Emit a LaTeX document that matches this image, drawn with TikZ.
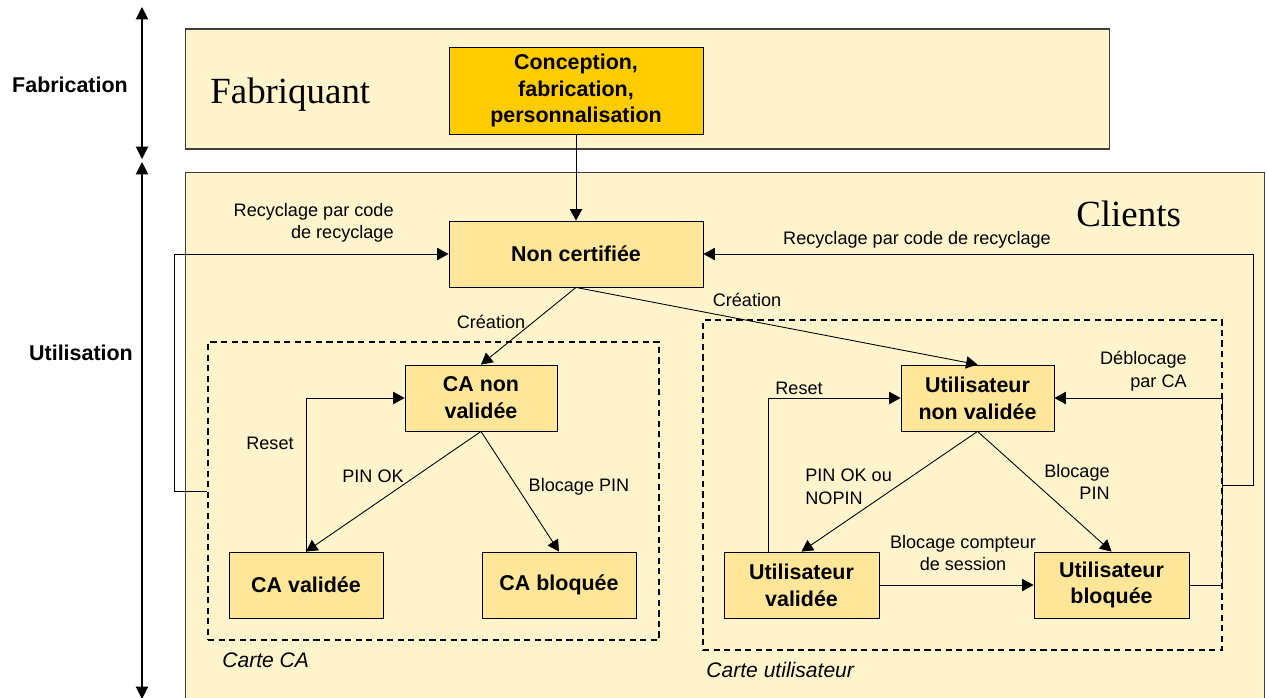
\documentclass[tikz,border=0pt]{standalone}
\usepackage{fontspec}
\setmainfont{Liberation Sans}
\newfontfamily\titlefont{Liberation Serif}
\usetikzlibrary{positioning,arrows.meta}

\definecolor{creme}{HTML}{FFF4CC}
\definecolor{etat}{HTML}{FFE699}
\definecolor{usine}{HTML}{FFCC00}
\definecolor{bord}{HTML}{404040}

\tikzset{
  zone/.style={draw=bord, fill=creme, line width=0.6pt, inner sep=0pt},
  etatbox/.style={draw=black, fill=etat, line width=0.5pt, align=center, inner sep=0pt,
    minimum height=1.32cm, font=\fontsize{12.2}{15.3}\selectfont\bfseries},
  carte/.style={draw=black, dash pattern=on 3.5pt off 2.5pt, line width=0.9pt, inner sep=0pt},
  lbl/.style={font=\fontsize{10.3}{12.8}\selectfont, inner sep=0pt},
  ital/.style={font=\fontsize{12}{14}\selectfont\itshape, inner sep=0pt, anchor=west},
  phase/.style={font=\fontsize{12.2}{14}\selectfont\bfseries, inner sep=0pt},
  arr/.style={-{Triangle[length=6.5pt,width=7pt]}, line width=0.5pt},
  axe/.style={{Triangle[length=7pt,width=7pt]}-{Triangle[length=7pt,width=7pt]}, line width=0.6pt}
}

\begin{document}
\begin{tikzpicture}[x=0.02cm, y=-0.02cm]
  \useasboundingbox (0,0) rectangle (1267,697);

  % the two phases
  \node[zone, minimum width=18.5cm, minimum height=2.4cm] (fab) at (647.5,89) {};
  \node[zone, minimum width=21.6cm, minimum height=10.54cm] (cli) at (725,435.5) {};
  \node[font=\titlefont\fontsize{21}{24}\selectfont, anchor=base west, inner sep=0pt] (fabnom) at (210,103) {Fabriquant};
  \node[font=\titlefont\fontsize{21}{24}\selectfont, anchor=base west, inner sep=0pt] (clinom) at (1076,226) {Clients};

  % time axis on the left
  \coordinate (axA) at (142,7);   \coordinate (axB) at (142,159);
  \coordinate (axC) at (142,162); \coordinate (axD) at (142,699);
  \draw[axe] (axA) -- (axB);
  \draw[axe] (axC) -- (axD);
  \node[phase] (pfab) at (70,85) {Fabrication};
  \node[phase] (putil) at (81,353) {Utilisation};

  % the two cards
  \node[carte, minimum width=9.02cm, minimum height=5.96cm] (carteca) at (433.5,491) {};
  \node[carte, minimum width=10.38cm, minimum height=6.6cm] (carteus) at (962.5,485) {};
  \node[ital] (lca) at (222,660) {Carte CA};
  \node[ital] (lus) at (706,670) {Carte utilisateur};

  % states
  \node[etatbox, fill=usine, minimum width=5.08cm, minimum height=1.74cm] (conc) at (576,90.5) {Conception,\\fabrication,\\personnalisation};
  \node[etatbox, minimum width=5.08cm] (noncert) at (576,254) {Non certifiée};
  \node[etatbox, minimum width=3.04cm] (canv) at (481,398) {CA non\\validée};
  \node[etatbox, minimum width=3.08cm] (caval) at (306,585) {CA validée};
  \node[etatbox, minimum width=3.08cm] (cablo) at (559,585) {CA bloquée};
  \node[etatbox, minimum width=3.06cm] (usnv) at (977.5,398) {Utilisateur\\non validée};
  \node[etatbox, minimum width=3.1cm] (usval) at (801.5,585) {Utilisateur\\validée};
  \node[etatbox, minimum width=3.1cm] (usblo) at (1111.5,585) {Utilisateur\\bloquée};

  % transitions
  \draw[arr] (conc) -- (noncert);
  \draw[arr] (carteca.west) -- ++(-33,0) |- (noncert.west);
  \draw[arr] (carteus.east) -- ++(31,0) |- (noncert.east);
  \draw[arr] (noncert.south) -- (canv.north);
  \draw[arr] (noncert.south) -- (usnv.north);
  \draw[arr] (caval.north) |- (canv.west);
  \draw[arr] (canv.south) -- (caval.north);
  \draw[arr] (canv.south) -- (cablo.north);
  \draw[arr] ([xshift=-0.67cm]usval.north) |- (usnv.west);
  \draw[arr] (usnv.south) -- (usval.north);
  \draw[arr] (usnv.south) -- (usblo.north);
  \draw[arr] (usval) -- (usblo);
  \draw[arr] (usblo.east) -- (usblo.east -| carteus.east) |- (usnv.east);

  % labels
  \node[lbl, align=right, anchor=east] (lrecg) at (394,223) {Recyclage par code\\de recyclage};
  \node[lbl] (lrecd) at (917,240) {Recyclage par code de recyclage};
  \node[lbl] (lcrg) at (491,322) {Création};
  \node[lbl] (lcrd) at (747,300) {Création};
  \node[lbl] (lrsca) at (270,443) {Reset};
  \node[lbl] (lpinca) at (373,476) {PIN OK};
  \node[lbl] (lblca) at (579,487) {Blocage PIN};
  \node[lbl] (lrsus) at (799,388) {Reset};
  \node[lbl, align=left, anchor=west] (lpinus) at (805,487) {PIN OK ou\\NOPIN};
  \node[lbl, align=right, anchor=east] (lblus) at (1110,482) {Blocage\\PIN};
  \node[lbl, align=right, anchor=east] (ldeb) at (1187,371) {Déblocage\\par CA};
  \node[lbl, align=center] (lcpt) at (963,553) {Blocage compteur\\de session};
\end{tikzpicture}
\end{document}
